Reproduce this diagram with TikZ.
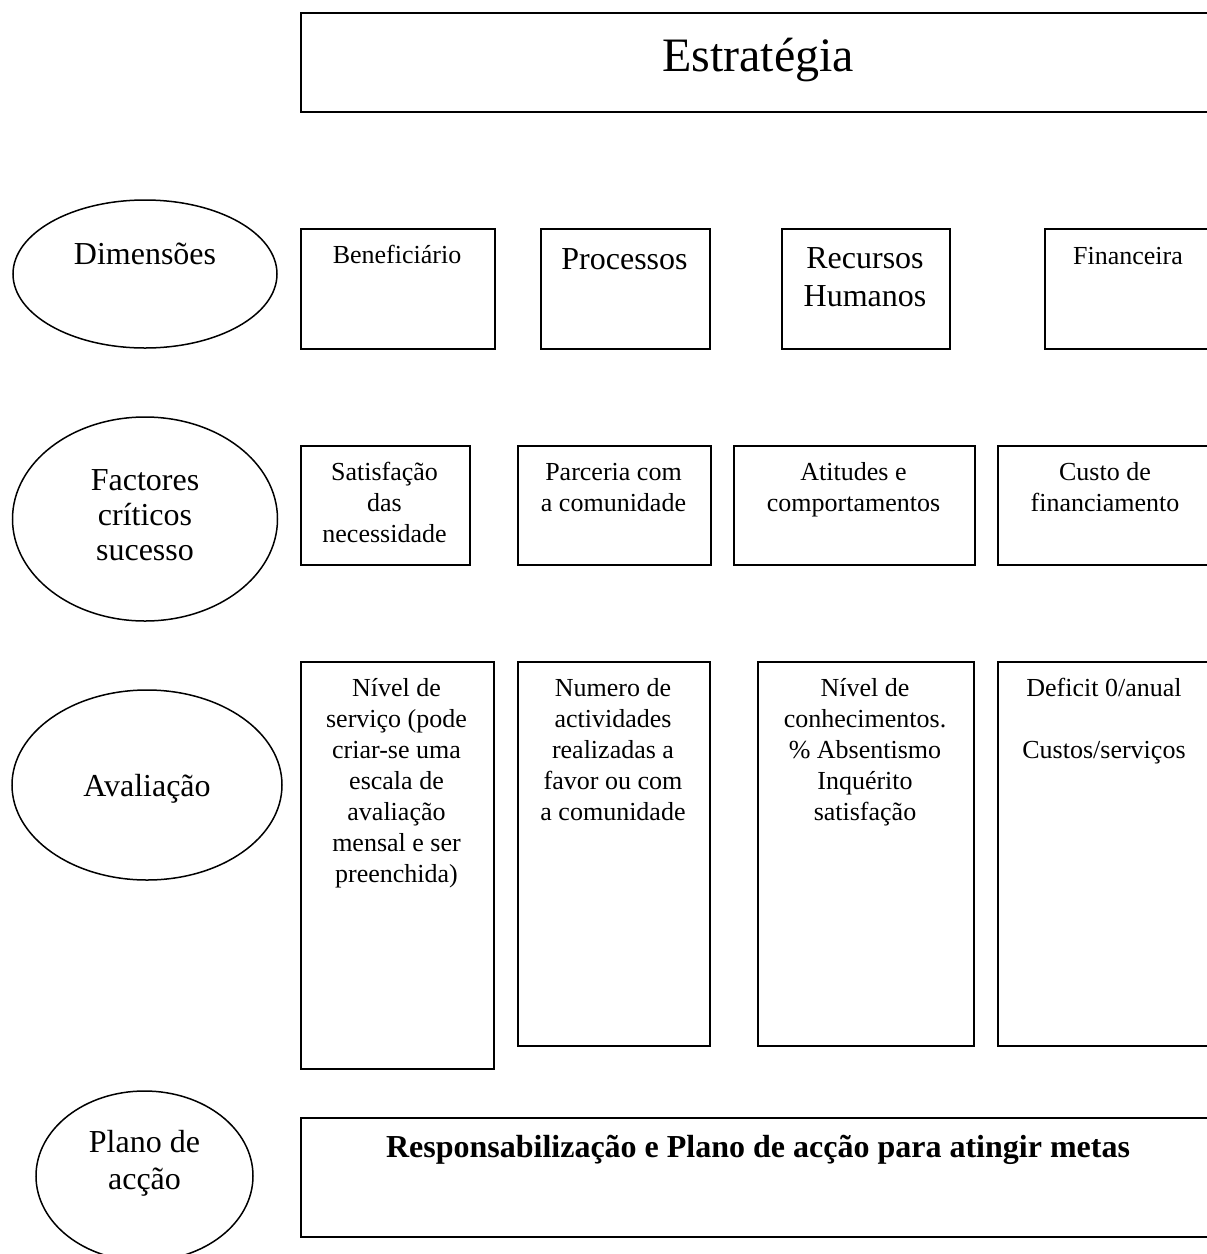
\documentclass[tikz,border=0pt]{standalone}
\usepackage{fontspec}
\setmainfont{Liberation Serif}
\usetikzlibrary{shapes.geometric}
\tikzset{
  box/.style={draw, line width=1.5pt, rectangle, inner sep=0pt, anchor=north west},
  oval/.style={draw, line width=1.5pt, ellipse, inner sep=0pt},
  txt/.style={anchor=base, inner sep=0pt},
  fa/.style={font=\fontsize{26}{31}\selectfont},
  fb/.style={font=\fontsize{32}{37}\selectfont},
  fc/.style={font=\fontsize{48}{55}\selectfont},
  fd/.style={font=\fontsize{32}{37}\selectfont\bfseries},
}
\begin{document}
\begin{tikzpicture}[x=1pt,y=-1pt]
\useasboundingbox (0,0) rectangle (1207,1254);
\fill[white] (0,0) rectangle (1207,1254);
\clip (0,0) rectangle (1207,1254);

% Strategy
\node[box, minimum width=915pt, minimum height=99pt] (estr) at (300,12) {};
\node[txt,fc] (testr) at (758,71) {Estratégia};

% Row 1
\node[oval, minimum width=264pt, minimum height=148pt] (dim) at (145,274) {};
\node[txt,fb] (tdim) at (145,264) {Dimensões};
\node[box, minimum width=194pt, minimum height=120pt] (ben) at (300,228) {};
\node[txt,fa] (tben) at (397,263) {Beneficiário};
\node[box, minimum width=169pt, minimum height=120pt] (proc) at (540,228) {};
\node[txt,fb] (tproc) at (624.5,269) {Processos};
\node[box, minimum width=168pt, minimum height=120pt] (rh) at (781,228) {};
\node[txt,fb] (trh1) at (865,268) {Recursos};
\node[txt,fb] (trh2) at (865,306) {Humanos};
\node[box, minimum width=168pt, minimum height=120pt] (fin) at (1044,228) {};
\node[txt,fa] (tfin) at (1128,264) {Financeira};

% Row 2
\node[oval, minimum width=265pt, minimum height=204pt] (fcs) at (145,519) {};
\node[txt,fb] (tfcs1) at (145,490) {Factores};
\node[txt,fb] (tfcs2) at (145,525) {críticos};
\node[txt,fb] (tfcs3) at (145,560) {sucesso};
\node[box, minimum width=169pt, minimum height=119pt] (sat) at (300,445) {};
\node[txt,fa] (tsat1) at (384.5,480) {Satisfação};
\node[txt,fa] (tsat2) at (384.5,511) {das};
\node[txt,fa] (tsat3) at (384.5,542) {necessidade};
\node[box, minimum width=193pt, minimum height=119pt] (parc) at (517,445) {};
\node[txt,fa] (tparc1) at (613.5,480) {Parceria com};
\node[txt,fa] (tparc2) at (613.5,511) {a comunidade};
\node[box, minimum width=241pt, minimum height=119pt] (atit) at (733,445) {};
\node[txt,fa] (tatit1) at (853.5,480) {Atitudes e};
\node[txt,fa] (tatit2) at (853.5,511) {comportamentos};
\node[box, minimum width=216pt, minimum height=119pt] (cust) at (997,445) {};
\node[txt,fa] (tcust1) at (1105,480) {Custo de};
\node[txt,fa] (tcust2) at (1105,511) {financiamento};

% Row 3
\node[oval, minimum width=270pt, minimum height=190pt] (aval) at (147,785) {};
\node[txt,fb] (taval) at (147,796) {Avaliação};
\node[box, minimum width=193pt, minimum height=407pt] (niv) at (300,661) {};
\node[txt,fa] (tniv1) at (396.5,696) {Nível de};
\node[txt,fa] (tniv2) at (396.5,727) {serviço (pode};
\node[txt,fa] (tniv3) at (396.5,758) {criar-se uma};
\node[txt,fa] (tniv4) at (396.5,789) {escala de};
\node[txt,fa] (tniv5) at (396.5,820) {avaliação};
\node[txt,fa] (tniv6) at (396.5,851) {mensal e ser};
\node[txt,fa] (tniv7) at (396.5,882) {preenchida)};
\node[box, minimum width=192pt, minimum height=384pt] (num) at (517,661) {};
\node[txt,fa] (tnum1) at (613,696) {Numero de};
\node[txt,fa] (tnum2) at (613,727) {actividades};
\node[txt,fa] (tnum3) at (613,758) {realizadas a};
\node[txt,fa] (tnum4) at (613,789) {favor ou com};
\node[txt,fa] (tnum5) at (613,820) {a comunidade};
\node[box, minimum width=216pt, minimum height=384pt] (conh) at (757,661) {};
\node[txt,fa] (tconh1) at (865,696) {Nível de};
\node[txt,fa] (tconh2) at (865,727) {conhecimentos.};
\node[txt,fa] (tconh3) at (865,758) {\% Absentismo};
\node[txt,fa] (tconh4) at (865,789) {Inquérito};
\node[txt,fa] (tconh5) at (865,820) {satisfação};
\node[box, minimum width=214pt, minimum height=384pt] (def) at (997,661) {};
\node[txt,fa] (tdef1) at (1104,696) {Deficit 0/anual};
\node[txt,fa] (tdef2) at (1104,758) {Custos/serviços};

% Row 4
\node[oval, minimum width=217pt, minimum height=170pt] (plano) at (144.5,1176) {};
\node[txt,fb] (tplano1) at (144.5,1152) {Plano de};
\node[txt,fb] (tplano2) at (144.5,1189) {acção};
\node[box, minimum width=915pt, minimum height=119pt] (resp) at (300,1117) {};
\node[txt,fd] (tresp) at (758,1157) {Responsabilização e Plano de acção para atingir metas};
\end{tikzpicture}
\end{document}
